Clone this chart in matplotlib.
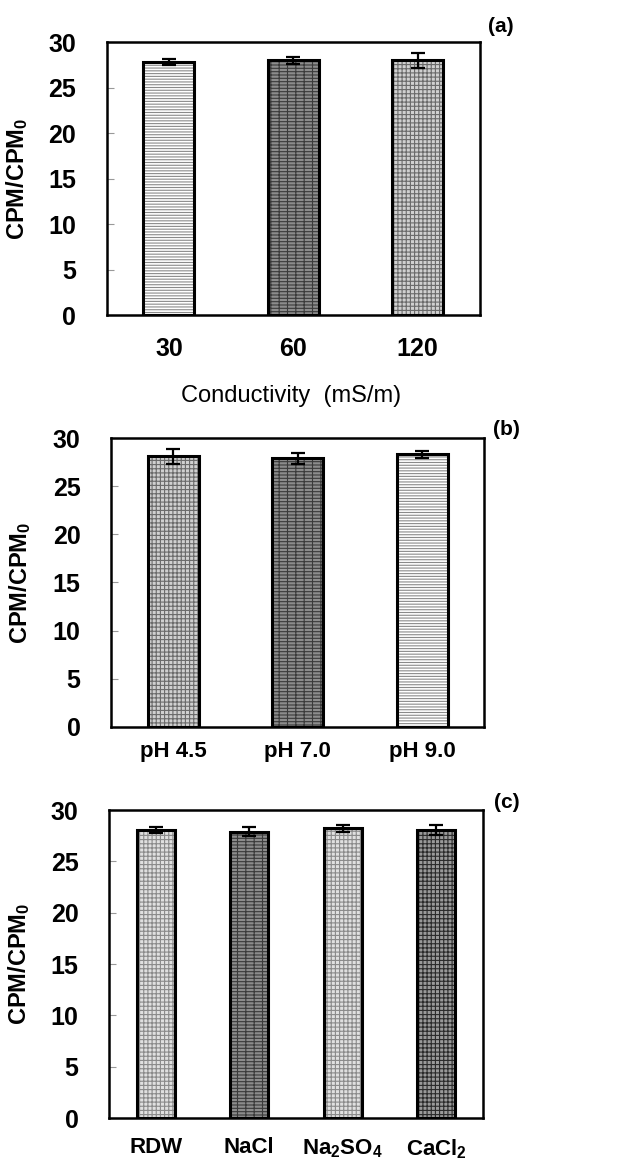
import numpy as np
import matplotlib
matplotlib.use("Agg")
import matplotlib.pyplot as plt

plt.rcParams['font.family'] = ['Liberation Sans', 'DejaVu Sans']
plt.rcParams['mathtext.default'] = 'regular'
plt.rcParams['hatch.linewidth'] = 0.8

# panel (a): conductivity
cond_labels = ['30', '60', '120']
cond_vals = [27.8, 28.0, 28.0]
cond_err = [0.3, 0.4, 0.8]

# panel (b): pH
ph_labels = ['pH 4.5', 'pH 7.0', 'pH 9.0']
ph_vals = [28.1, 27.9, 28.3]
ph_err = [0.75, 0.55, 0.4]

# panel (c): salts
salt_labels = ['RDW', 'NaCl', 'Na$_2$SO$_4$', 'CaCl$_2$']
salt_vals = [28.05, 27.9, 28.2, 28.05]
salt_err = [0.28, 0.48, 0.3, 0.48]

# bar looks: (face, hatch, hatch colour)
look_hlines = ('white', '------', '#8a8a8a')
look_dark = ('#8c8c8c', '-----||', '#3a3a3a')
look_grid = ('#d0d0d0', '++++', '#6a6a6a')
look_lgrid = ('#e0e0e0', '++++', '#8a8a8a')
look_dgrid = ('#9a9a9a', '++++', '#2a2a2a')

fig = plt.figure(figsize=(6.28, 11.68), dpi=100)


def panel(rect, labels, vals, errs, looks, tag, tagpos, xpad, ylab_x):
    ax = fig.add_axes(rect)
    x = np.arange(len(vals))
    for xi, v, lk in zip(x, vals, looks):
        ax.bar(xi, v, 0.41, color=lk[0], hatch=lk[1], edgecolor=lk[2], linewidth=0)
        ax.bar(xi, v, 0.41, fill=False, edgecolor='black', linewidth=2.2)
    ax.errorbar(x, vals, yerr=errs, fmt='none', ecolor='black',
                elinewidth=1.6, capsize=5, capthick=1.6)
    ax.set_xlim(-0.5, len(vals) - 0.5)
    ax.set_ylim(0, 30)
    ax.set_yticks([0, 5, 10, 15, 20, 25, 30])
    ax.set_xticks(x)
    ax.set_xticklabels(labels)
    ax.tick_params(axis='y', direction='in', length=5, color='#999999',
                   labelsize=18, pad=22)
    for t in ax.get_yticklabels():
        t.set_fontweight('bold')
    ax.tick_params(axis='x', length=0, pad=xpad)
    for s in ax.spines.values():
        s.set_linewidth(1.8)
    ax.set_ylabel('CPM/CPM$_0$', fontsize=17, fontweight='bold')
    ax.yaxis.set_label_coords(ylab_x, 0.5)
    fig.text(tagpos[0], tagpos[1], tag, fontsize=15, fontweight='bold',
             ha='center', va='center')
    return ax


axa = panel([0.170, 0.7303, 0.594, 0.2337], cond_labels, cond_vals, cond_err,
            [look_hlines, look_dark, look_grid], '(a)', (0.797, 0.977), 16,
            (30 - 107) / 373)
for t in axa.get_xticklabels():
    t.set_fontsize(18)
    t.set_fontweight('bold')
fig.text(0.464, 0.656, 'Conductivity  (mS/m)', fontsize=17,
         ha='center', va='baseline')

axb = panel([0.177, 0.3776, 0.594, 0.2474], ph_labels, ph_vals, ph_err,
            [look_grid, look_dark, look_hlines], '(b)', (0.807, 0.632), 10,
            (33 - 111) / 373)
for t in axb.get_xticklabels():
    t.set_fontsize(16)
    t.set_fontweight('bold')

axc = panel([0.1736, 0.0428, 0.5955, 0.2637], salt_labels, salt_vals, salt_err,
            [look_lgrid, look_dark, look_lgrid, look_dgrid], '(c)', (0.807, 0.313), 14,
            (32 - 109) / 374)
for t in axc.get_xticklabels():
    t.set_fontsize(16)
    t.set_fontweight('bold')

fig.savefig('out.png', dpi=100)
